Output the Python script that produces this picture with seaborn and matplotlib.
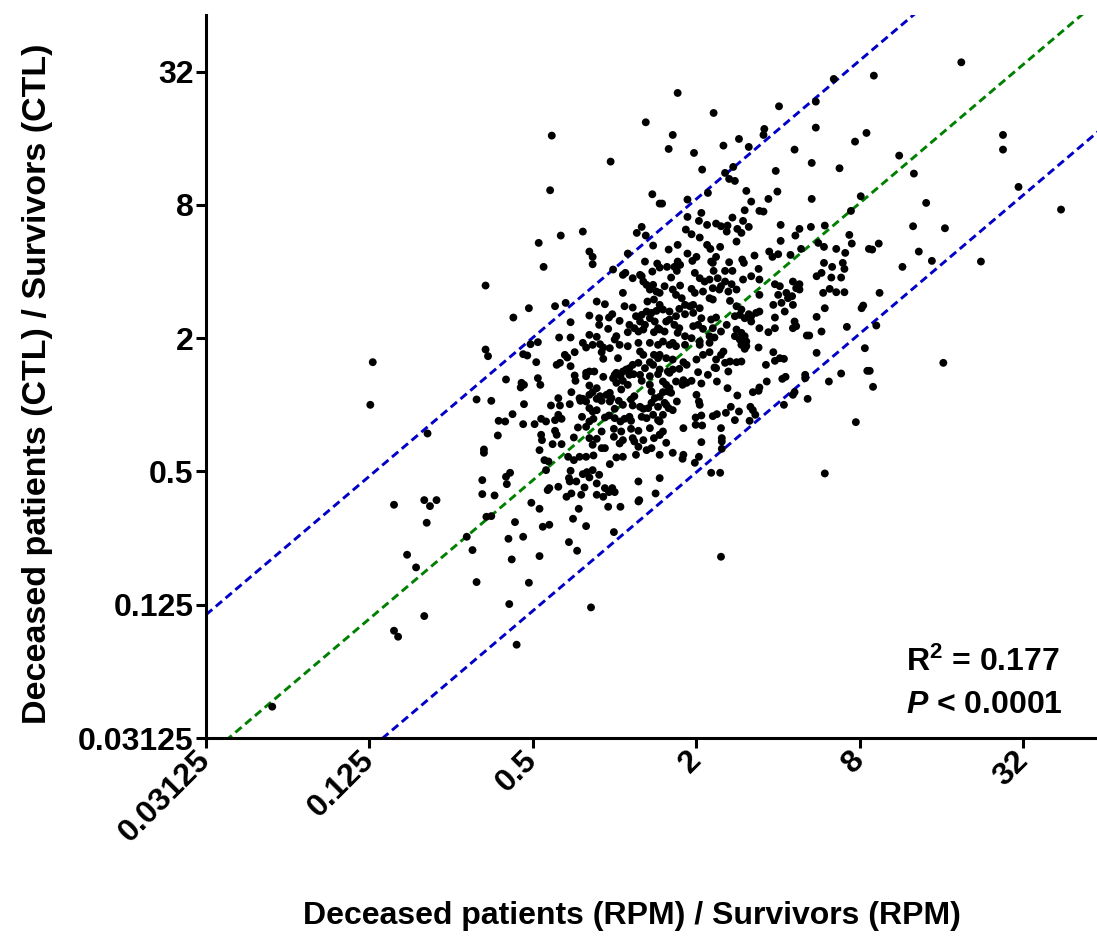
import numpy as np
import pandas as pd
import seaborn as sns
import matplotlib
matplotlib.use("Agg")
import matplotlib.pyplot as plt

# ---- data: log2 fold changes (x = RPM ratio, y = CTL ratio) ----
left_pts = [
    (-4.19, -4.53), (-2.96, 0.64), (-2.99, 0.00), (-2.70, -1.50), (-2.54, -2.25),
    (-2.43, -2.44), (-2.33, -3.17), (-2.70, -3.39), (-2.65, -3.48), (-2.33, -1.43),
    (-2.26, -1.52), (-2.18, -1.43), (-2.30, -1.77), (-2.29, -0.43),
]
top_mid_pts = [
    (0.38, 4.24), (-0.77, 4.04), (-0.05, 3.65), (-0.79, 3.22), (0.46, 3.16),
    (0.55, 3.02), (0.33, 2.67), (0.27, 2.58), (0.38, 2.54), (0.47, 2.39),
    (-0.39, 2.60), (-0.66, 2.54), (-0.93, 2.43), (-0.31, 2.30), (-0.27, 2.22),
    (-0.27, 2.11), (-0.87, 2.07), (0.16, 2.27), (0.37, 2.15), (0.52, 2.12),
    (-0.02, 2.03), (0.13, 1.98), (0.31, 1.95), (0.46, 2.00),
]
top_right_pts = [
    (0.77, 4.68), (1.21, 4.38), (2.01, 4.48), (2.68, 4.89), (2.46, 4.55),
    (0.71, 4.05), (0.66, 3.84), (0.97, 3.78), (1.33, 3.89), (1.52, 3.99),
    (1.64, 3.87), (1.83, 4.14), (1.82, 4.05), (2.46, 4.16), (2.20, 3.83),
    (2.94, 3.95), (3.08, 4.08), (1.07, 3.53), (1.45, 3.57), (1.35, 3.48),
    (1.40, 3.39), (1.47, 3.36), (1.97, 3.51), (2.41, 3.63), (2.75, 3.55),
    (1.14, 3.18), (1.61, 3.21), (1.99, 3.20), (1.88, 3.09), (2.41, 3.09),
    (3.01, 3.13), (0.58, 3.02), (0.89, 3.08), (1.67, 3.05), (1.06, 2.88),
    (0.89, 2.82), (1.59, 2.92), (1.77, 2.91), (1.82, 2.90), (1.44, 2.81),
    (1.57, 2.76), (2.89, 2.91), (1.03, 2.76), (1.13, 2.70), (1.24, 2.72),
    (1.30, 2.68), (1.38, 2.69), (1.37, 2.60), (1.50, 2.64), (1.55, 2.58),
    (1.64, 2.67), (2.03, 2.70), (2.26, 2.64), (2.40, 2.67), (2.57, 2.69),
    (0.87, 2.63), (0.94, 2.56), (1.04, 2.51), (1.49, 2.45), (2.21, 2.54),
    (2.03, 2.46), (2.49, 2.43), (2.87, 2.55), (2.90, 2.42), (0.66, 2.33),
    (0.77, 2.40), (1.13, 2.40), (1.17, 2.34), (1.29, 2.37), (2.28, 2.34),
    (2.56, 2.37), (2.71, 2.34), (2.82, 2.28), (3.11, 2.34), (0.89, 2.27),
    (1.00, 2.22), (0.95, 2.16), (1.71, 2.24), (1.89, 2.30), (2.00, 2.26),
    (1.93, 2.22), (2.15, 2.25), (1.20, 2.13), (1.24, 2.22), (1.18, 2.15),
    (1.40, 2.14), (1.56, 2.18), (1.58, 2.13), (0.77, 2.15), (0.80, 2.10),
    (0.73, 2.07), (0.64, 2.07), (0.76, 2.01), (0.55, 2.06), (2.56, 2.13),
    (2.79, 2.13), (2.66, 2.07), (2.81, 2.04), (1.76, 2.04), (1.21, 2.01),
    (1.35, 2.01), (1.44, 2.01), (0.98, 1.98), (2.53, 1.98),
]
far_right_pts = [
    (4.24, 5.14), (3.17, 4.94), (4.75, 4.05), (4.75, 3.83), (3.48, 3.74),
    (3.66, 3.47), (4.94, 3.27), (3.81, 3.03), (5.46, 2.93), (3.65, 2.68),
    (4.04, 2.65), (3.23, 2.42), (3.15, 2.33), (3.72, 2.30), (3.88, 2.16),
    (4.48, 2.15), (3.52, 2.07), (3.24, 1.68), (3.20, 1.19), (4.02, 0.63),
    (3.12, 0.51), (3.16, 0.27),
]
bottom_pts = [
    (-1.02, -1.47), (-0.92, -1.56), (-0.44, -1.56), (-0.08, -1.53), (0.07, -1.53),
    (0.29, -1.45), (-1.57, -1.68), (-1.51, -1.67), (-1.22, -1.76), (-0.88, -1.83),
    (-0.80, -1.80), (-0.51, -1.71), (-0.35, -1.82), (-0.01, -1.91), (-1.81, -1.98),
    (-1.30, -2.01), (-1.12, -1.98), (-0.56, -2.06), (-0.46, -2.19), (-1.74, -2.18),
    (-1.26, -2.32), (-0.92, -2.27), (-1.69, -2.66), (-1.05, -2.67), (-1.29, -2.99),
    (-0.29, -3.04), (-1.20, -3.60), (1.30, -2.28),
]
mid_right_pts = [
    (3.02, 1.45), (3.04, 1.49), (2.84, 1.17), (2.47, 1.32), (2.57, 1.45),
    (2.53, 1.10), (2.35, 1.04), (2.38, 1.04), (3.06, 0.85), (2.47, 0.78),
    (3.09, 0.51), (2.77, 0.47), (2.62, 0.35), (2.33, 0.45), (2.33, 0.40),
    (2.36, 0.09), (2.07, 0.00), (2.18, 0.15), (2.20, 0.19), (2.95, -0.26),
    (2.57, -1.03), (1.18, -1.02), (1.29, -1.02), (0.71, -0.72), (0.84, -0.75),
    (0.83, -0.81), (1.03, -0.78), (0.98, -0.87), (0.55, -1.10), (1.06, -0.56),
    (1.31, -0.50), (1.31, -0.55), (1.31, -0.66), (1.30, -0.35), (0.99, -0.30),
    (1.07, -0.31), (0.84, -0.35), (0.99, -0.19), (1.06, -0.16), (1.20, -0.17),
    (1.25, -0.14), (1.36, -0.12), (1.47, -0.23), (1.52, -0.10), (1.42, -0.03),
    (1.66, -0.03), (1.69, -0.08), (1.72, -0.15), (1.65, -0.24), (1.50, 0.14),
    (1.38, 0.25), (1.69, 0.19), (1.76, 0.21), (1.77, 0.26), (1.86, 0.35),
    (2.05, 0.39), (2.09, 0.42), (1.85, 0.60), (1.94, 0.79), (1.96, 0.66),
    (2.02, 0.70), (2.07, 0.69), (1.76, 0.86), (1.25, 0.35), (1.14, 0.45),
    (1.06, 0.32), (0.94, 0.36), (0.88, 0.33), (0.84, 0.37), (0.83, 0.30),
    (0.63, -0.57), (0.59, -0.40), (0.55, -0.45), (0.71, -0.08), (0.76, 0.05),
    (0.59, -0.15), (0.55, -0.25), (0.61, 0.03), (0.63, 0.00), (0.66, -0.05),
    (0.55, 0.12), (0.59, 0.19), (0.65, 0.20), (1.00, 0.15), (1.03, 0.05),
    (1.04, 0.00),
]
core_right_pts = [
    (0.69, 1.91), (1.04, 1.90), (1.10, 1.85), (1.16, 1.88), (1.26, 1.90),
    (1.35, 1.85), (1.43, 1.81), (1.57, 1.88), (1.67, 1.93), (1.77, 1.88),
    (1.96, 1.81), (2.02, 1.78), (2.18, 1.85), (2.22, 1.75), (2.26, 1.81),
    (2.47, 1.93), (2.65, 1.91), (2.77, 1.91), (0.61, 1.78), (0.71, 1.73),
    (0.80, 1.79), (0.94, 1.74), (0.98, 1.68), (1.08, 1.70), (1.20, 1.75),
    (1.28, 1.73), (1.39, 1.70), (1.49, 1.73), (1.30, 1.78), (1.77, 1.65),
    (2.00, 1.65), (2.10, 1.68), (2.17, 1.63), (2.26, 1.73), (2.55, 1.68),
    (2.71, 1.69), (2.81, 1.69), (2.63, 1.74), (0.75, 1.65), (0.82, 1.60),
    (0.55, 1.68), (0.86, 1.50), (0.92, 1.48), (0.96, 1.50), (1.04, 1.45),
    (1.16, 1.60), (1.20, 1.58), (1.41, 1.56), (1.49, 1.48), (1.55, 1.43),
    (1.64, 1.36), (1.67, 1.33), (1.73, 1.38), (1.77, 1.40), (1.94, 1.50),
    (2.04, 1.53), (2.12, 1.60), (2.18, 1.50), (2.08, 1.40), (1.96, 1.31),
    (0.59, 1.43), (0.67, 1.40), (0.79, 1.44), (0.86, 1.36), (0.96, 1.38),
    (1.06, 1.30), (1.18, 1.28), (1.24, 1.31), (1.47, 1.33), (1.53, 1.35),
    (1.59, 1.30), (0.67, 1.28), (0.75, 1.33), (0.55, 1.50), (0.63, 1.25),
    (0.73, 1.20), (0.79, 1.15), (0.96, 1.18), (1.02, 1.20), (1.08, 1.14),
    (1.20, 1.15), (1.30, 1.10), (1.37, 1.20), (1.49, 1.13), (1.55, 1.08),
    (1.59, 1.03), (1.67, 1.25), (1.77, 1.15), (1.88, 1.09), (1.96, 1.15),
    (2.20, 1.25), (2.22, 1.18), (2.18, 1.15), (0.55, 1.13), (0.61, 1.10),
    (0.77, 1.08), (0.86, 1.03), (0.94, 1.00), (1.04, 0.95), (1.16, 1.03),
    (1.22, 1.01), (1.47, 1.03), (1.53, 0.98), (1.61, 0.95), (0.59, 0.95),
    (0.71, 0.93), (0.67, 0.90), (0.75, 0.88), (0.86, 0.90), (1.04, 0.90),
    (1.16, 0.93), (1.33, 0.80), (1.30, 0.75), (1.55, 0.90), (1.61, 0.88),
    (1.59, 0.84), (0.55, 0.75), (0.63, 0.70), (0.71, 0.68), (0.84, 0.64),
    (0.88, 0.60), (1.00, 0.68), (1.08, 0.75), (1.16, 0.79), (1.24, 0.68),
    (1.35, 0.63), (1.41, 0.65), (1.49, 0.64), (1.55, 0.65), (1.24, 0.55),
    (0.55, 0.53), (0.65, 0.50), (0.71, 0.53), (0.79, 0.54), (1.02, 0.49),
    (1.22, 0.56), (1.39, 0.50), (0.67, 0.48), (0.59, 0.35), (0.63, 0.30),
    (0.75, 0.35), (0.67, 0.25), (0.69, 0.18),
]
mid_left_pts = [
    (-1.58, 1.79), (-1.05, 1.45), (-1.24, 1.31), (-0.73, 1.48), (-0.60, 1.53),
    (-1.58, 0.83), (-1.55, 0.73), (-1.03, 0.91), (-0.94, 0.94), (-1.12, 0.76),
    (-1.07, 0.74), (-0.96, 0.64), (-1.33, 0.38), (-1.14, 0.33), (-1.11, 0.30),
    (-1.15, 0.26), (-0.94, 0.40), (-0.91, 0.30), (-1.69, 0.08), (-1.51, 0.06),
    (-1.11, 0.01), (-1.25, -0.14), (-1.42, -0.24), (-1.34, -0.25), (-1.12, -0.29),
    (-0.98, -0.29), (-1.43, -0.46), (-1.60, -0.67), (-1.60, -0.72), (-1.62, -1.13),
    (-1.62, -1.34), (-1.47, -1.36), (-1.33, -1.08), (-1.28, -1.02), (-1.32, -1.19),
]
core_left_pts = [
    (0.10, 1.95), (0.22, 1.90), (0.33, 1.93), (0.39, 1.80), (0.43, 1.73),
    (0.10, 1.68), (0.35, 1.85), (0.47, 1.80), (0.51, 1.70), (-0.22, 1.55),
    (-0.12, 1.51), (0.12, 1.48), (0.22, 1.46), (0.40, 1.55), (0.48, 1.58),
    (-0.31, 1.34), (-0.19, 1.30), (-0.07, 1.31), (-0.03, 1.36), (0.06, 1.26),
    (0.26, 1.33), (0.33, 1.35), (0.39, 1.40), (0.45, 1.38), (0.51, 1.41),
    (-0.54, 1.24), (-0.19, 1.20), (-0.08, 1.14), (0.18, 1.20), (0.24, 1.15),
    (0.31, 1.25), (0.37, 1.20), (0.43, 1.30), (0.49, 1.25), (0.29, 1.10),
    (0.35, 1.13), (0.48, 1.09), (0.53, 1.15), (0.16, 1.09), (-0.68, 1.01),
    (-0.54, 1.01), (-0.31, 1.05), (-0.22, 1.02), (0.02, 1.03), (0.00, 0.98),
    (-0.39, 0.93), (-0.35, 0.86), (-0.27, 0.90), (-0.18, 0.91), (-0.14, 0.86),
    (-0.06, 0.85), (0.06, 0.90), (0.16, 0.88), (0.29, 0.93), (0.31, 0.80),
    (0.35, 0.75), (0.43, 0.93), (0.53, 0.90), (-0.49, 0.79), (-0.16, 0.79),
    (0.48, 0.75), (-0.61, 0.75), (-0.58, 0.71), (-0.54, 0.58), (-0.71, 0.60),
    (-0.67, 0.63), (-0.14, 0.69), (0.04, 0.70), (0.22, 0.60), (0.18, 0.55),
    (0.10, 0.50), (0.14, 0.53), (0.29, 0.63), (0.37, 0.55), (0.43, 0.64),
    (0.47, 0.60), (0.53, 0.70), (-0.35, 0.48), (-0.31, 0.50), (-0.25, 0.50),
    (0.00, 0.45), (0.02, 0.48), (-0.49, 0.44), (-0.48, 0.36), (-0.35, 0.43),
    (-0.14, 0.42), (-0.02, 0.40), (0.02, 0.33), (0.07, 0.43), (0.18, 0.45),
    (0.23, 0.46), (0.31, 0.45), (0.33, 0.36), (0.10, 0.36), (0.16, 0.30),
    (0.43, 0.43), (0.53, 0.46), (-0.31, 0.29), (-0.22, 0.25), (0.08, 0.23),
    (0.43, 0.30), (0.45, 0.20), (-0.53, 0.19), (-0.06, 0.18), (-0.69, 0.10),
    (-0.67, -0.01), (-0.55, 0.01), (-0.43, 0.10), (-0.39, 0.09), (-0.35, 0.05),
    (-0.42, 0.06), (-0.31, 0.15), (-0.27, 0.19), (-0.22, 0.09), (-0.16, 0.06),
    (-0.18, 0.13), (-0.10, 0.15), (-0.06, 0.05), (-0.04, 0.10), (0.05, 0.06),
    (0.10, 0.00), (0.20, 0.08), (0.24, 0.13), (0.22, -0.01), (0.31, -0.03),
    (0.35, -0.06), (0.41, -0.05), (0.45, 0.03), (0.49, 0.10), (0.53, -0.03),
    (-0.78, -0.01), (-0.31, -0.05), (-0.27, -0.10), (-0.22, -0.08), (0.00, -0.06),
    (-0.90, -0.21), (-0.84, -0.25), (-0.73, -0.23), (-0.69, -0.15), (-0.65, -0.21),
    (-0.40, -0.18), (-0.31, -0.25), (-0.26, -0.21), (-0.12, -0.19), (-0.07, -0.16),
    (0.00, -0.20), (0.07, -0.25), (0.12, -0.21), (0.18, -0.18), (0.20, -0.24),
    (0.33, -0.18), (0.39, -0.20), (0.47, -0.15), (0.53, -0.23), (-0.45, -0.34),
    (-0.35, -0.33), (-0.16, -0.40), (-0.01, -0.36), (0.08, -0.40), (0.20, -0.36),
    (0.29, -0.39), (0.43, -0.35), (-0.90, -0.45), (-0.89, -0.53), (-0.73, -0.39),
    (-0.71, -0.45), (-0.65, -0.59), (-0.76, -0.59), (-0.50, -0.49), (-0.31, -0.50),
    (-0.22, -0.51), (-0.27, -0.60), (-0.16, -0.65), (-0.12, -0.65), (-0.01, -0.48),
    (0.06, -0.58), (0.10, -0.53), (0.22, -0.50), (0.24, -0.55), (0.29, -0.63),
    (0.35, -0.53), (0.48, -0.50), (0.55, -0.45), (0.45, -0.65), (0.39, -0.68),
    (-0.92, -0.68), (-0.86, -0.83), (-0.81, -0.85), (-0.84, -0.98), (-0.57, -0.78),
    (-0.43, -0.78), (-0.35, -0.78), (-0.26, -0.76), (-0.06, -0.89), (0.02, -0.79),
    (0.10, -0.78), (-0.50, -0.83), (-0.54, -0.99), (-0.34, -1.01), (-0.27, -0.98),
    (-0.19, -1.05), (0.26, -0.75), (0.55, -0.75), (-0.80, -1.25), (-0.82, -1.28),
    (-0.69, -1.23), (-0.56, -1.10), (-0.55, -1.15), (-0.47, -1.15), (-0.39, -1.04),
    (-0.31, -1.09), (-0.37, -1.24), (-0.22, -1.18), (-0.12, -1.25), (-0.07, -1.31),
    (-0.03, -1.25), (0.00, -1.31), (-0.53, -1.33), (-0.41, -1.35), (-0.22, -1.35),
    (-0.14, -1.38), (0.29, -1.15), (0.50, -1.33), (0.30, -1.43), (-0.59, -1.38),
]

# regression line and band: log2(y) = intercept + slope * log2(x)
line_slope = 1.04
line_intercepts = [2.05, -0.09, -2.05]
line_colors = ["#0000C8", "#008000", "#0000C8"]

tick_exps = [-5, -3, -1, 1, 3, 5]
tick_labels = ["0.03125", "0.125", "0.5", "2", "8", "32"]
r2_text = "0.177"
p_text = "0.0001"

# ---- build frame ----
all_pts = (left_pts + top_mid_pts + top_right_pts + far_right_pts + bottom_pts
           + mid_right_pts + core_right_pts + mid_left_pts + core_left_pts)
df = pd.DataFrame(all_pts, columns=["lx", "ly"])
df["rpm"] = 2.0 ** df["lx"]
df["ctl"] = 2.0 ** df["ly"]

sns.set_theme(style="ticks")
plt.rcParams["font.family"] = ["Liberation Sans", "DejaVu Sans"]
plt.rcParams["font.weight"] = "bold"
plt.rcParams["text.color"] = "black"
plt.rcParams["axes.labelcolor"] = "black"
plt.rcParams["xtick.color"] = "black"
plt.rcParams["ytick.color"] = "black"
plt.rcParams["mathtext.fontset"] = "custom"
plt.rcParams["mathtext.rm"] = "Liberation Sans:bold"
plt.rcParams["mathtext.bf"] = "Liberation Sans:bold"
plt.rcParams["mathtext.it"] = "Liberation Sans:italic:bold"

fig = plt.figure(figsize=(10.97, 9.40), dpi=100)
ax = fig.add_axes([206 / 1097, 202 / 940, 891 / 1097, 723 / 940])

xmin, xmax = 2.0 ** -5, 2.0 ** 5.9
ymin, ymax = 2.0 ** -5, 2.0 ** 5.85

# dashed lines
xs = np.logspace(-5, 6, 200, base=2)
for b, c in zip(line_intercepts, line_colors):
    ys = 2.0 ** (b + line_slope * np.log2(xs))
    ax.plot(xs, ys, color=c, lw=2.1, ls=(0, (2.8, 1.6)), zorder=1)

sns.scatterplot(data=df, x="rpm", y="ctl", color="black", s=32,
                edgecolor="none", linewidth=0, ax=ax, zorder=3)

ax.set_xscale("log", base=2)
ax.set_yscale("log", base=2)
ax.set_xlim(xmin, xmax)
ax.set_ylim(ymin, ymax)
ax.set_xticks([2.0 ** e for e in tick_exps])
ax.set_xticklabels(tick_labels, rotation=45, ha="right", va="center",
                   rotation_mode="anchor")
ax.set_yticks([2.0 ** e for e in tick_exps])
ax.set_yticklabels(tick_labels)
ax.minorticks_off()

for lab in ax.get_xticklabels() + ax.get_yticklabels():
    lab.set_fontweight("bold")
    lab.set_fontsize(23)
    lab.set_color("black")
ax.tick_params(axis="both", length=7, width=2.2, color="black")
ax.tick_params(axis="y", pad=2)
ax.tick_params(axis="x", pad=6)

sns.despine(ax=ax)
for sp in ["left", "bottom"]:
    ax.spines[sp].set_linewidth(2.2)
    ax.spines[sp].set_color("black")

ax.set_xlabel("Deceased patients (RPM) / Survivors (RPM)", fontsize=23,
              fontweight="bold", color="black")
ax.set_ylabel("Deceased patients (CTL) / Survivors (CTL)", fontsize=24.5,
              fontweight="bold", color="black")
ax.xaxis.set_label_coords(0.478, -0.226)
ax.yaxis.set_label_coords(-0.172, 0.49)

fig.text(1060 / 1097, 1 - 671 / 940, "R$^{2}$ = " + r2_text, ha="right",
         va="baseline", fontsize=23, fontweight="bold", color="black")
fig.text(1063 / 1097, 1 - 713 / 940, "$P$ < " + p_text, ha="right",
         va="baseline", fontsize=23, fontweight="bold", color="black")

fig.savefig("out.png", dpi=100)
